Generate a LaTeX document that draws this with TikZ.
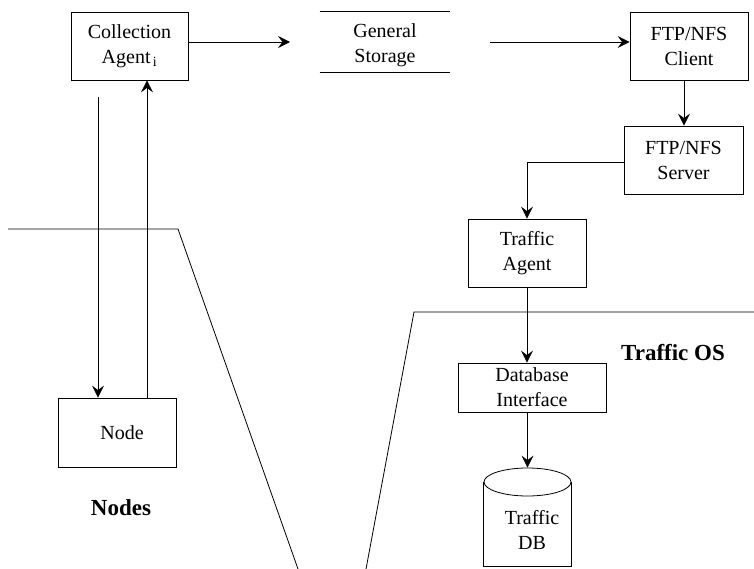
\documentclass[tikz,border=0pt]{standalone}
\usepackage{fontspec}
\setmainfont{Liberation Serif}
\usetikzlibrary{arrows.meta}
\tikzset{
  arr/.style={-{Stealth[length=12pt,width=12pt,inset=4.5pt]}},
  box/.style={draw, rectangle, align=center, inner sep=0pt,
    font=\fontsize{20}{25}\selectfont},
  plain/.style={align=center, inner sep=0pt, font=\fontsize{20}{25}\selectfont},
  heading/.style={inner sep=0pt, font=\fontsize{23}{27}\selectfont\bfseries},
}
\begin{document}
\begin{tikzpicture}[x=1pt, y=-1pt, line width=0.8pt]
\useasboundingbox (0,0) rectangle (754,569);

% boxes
\node[box, minimum width=117pt, minimum height=68pt] (ca) at (129.5,46) {Collection\\Agent\textsubscript{\,i}};
\node[plain, minimum width=130pt, minimum height=60pt] (gs) at (385,45) {General\\Storage};
\node[box, minimum width=118pt, minimum height=68pt] (cl) at (689,46) {FTP/NFS\\Client};
\node[box, minimum width=119pt, minimum height=68pt] (sv) at (683.5,160) {FTP/NFS\\Server};
\node[box, minimum width=118pt, minimum height=68pt] (ta) at (527,253) {Traffic\\Agent};
\node[box, minimum width=148pt, minimum height=49pt] (di) at (532,387.5) {Database\\Interface};
\node[box, minimum width=118pt, minimum height=69pt] (nd) at (117,432.5) {\hspace{10pt}Node};

% storage: two parallel lines
\draw ([yshift=3pt]gs.north west) -- ([yshift=3pt]gs.north east);
\draw ([yshift=3pt]gs.south west) -- ([yshift=3pt]gs.south east);

% database cylinder
\node[plain, minimum width=87pt, minimum height=98pt] (db) at (527.5,517) {};
\draw (db.north west) ++(0,14) coordinate (dbl)
      (db.north east) ++(0,14) coordinate (dbr);
\draw (dbl) -- (dbl |- db.south) -- (db.south east) -- (dbr);
\draw (527.5,482) ellipse [x radius=43.5pt, y radius=14pt];
\node[plain] (dbtext) at (532,530) {Traffic\\DB};

% region labels
\node[heading] (os) at (673,353) {Traffic OS};
\node[heading] (ns) at (121,508) {Nodes};

% region boundaries
\draw (8,229) -- (178,229) -- (298,569);
\draw (754,312) -- (414,312) -- (366,569);

% connectors
\coordinate (gsin) at (290,42);
\coordinate (gsout) at (490,42);
\draw[arr] (ca.east |- gsin) -- (gsin);
\draw[arr] (gsout) -- (gsout -| cl.west);
\draw[arr] ([xshift=-5pt]cl.south) -- ([xshift=-5pt]cl.south |- sv.north);
\draw[arr] ([yshift=-2pt]sv.west) -| (ta.north);
\draw[arr] (ta.south) -- (ta.south |- di.north);
\draw[arr] (db.north |- di.south) -- (db.north);

\coordinate (dn) at (98,97);
\coordinate (upx) at (147,0);
\draw[arr] (dn) -- (dn |- nd.north);
\draw[arr] (nd.north -| upx) -- (ca.south -| upx);
\end{tikzpicture}
\end{document}
